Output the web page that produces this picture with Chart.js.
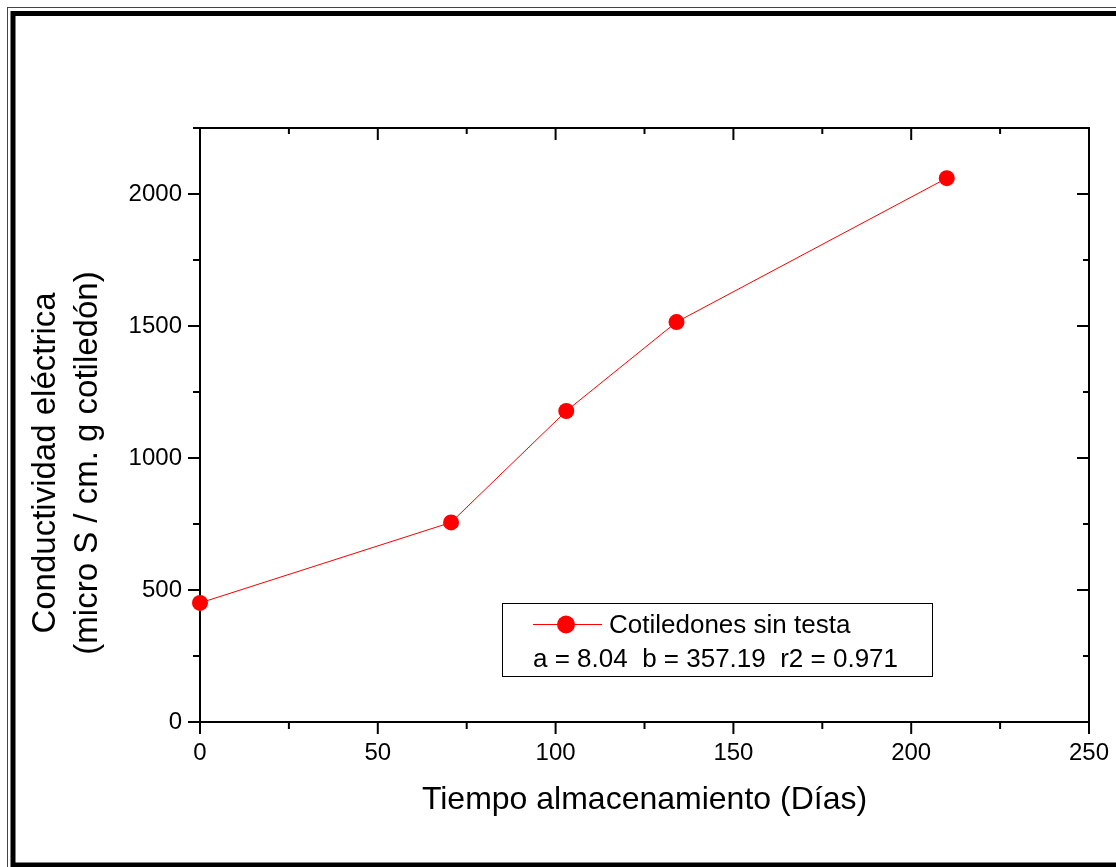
<!DOCTYPE html>
<html>
<head>
<meta charset="utf-8">
<script src="https://cdn.jsdelivr.net/npm/chart.js@4"></script>
<style>
  html, body { margin: 0; padding: 0; background: #fff; }
  canvas { display: block; }
</style>
</head>
<body>
<canvas id="chart" width="1116" height="867"></canvas>
<script>
// datos
const dias          = [0, 70.6, 103, 134, 210];
const conductividad = [451, 756, 1178, 1515, 2060];

const xTicks = [0, 50, 100, 150, 200, 250];
const xMinor = [25, 75, 125, 175, 225];
const yTicks = [0, 500, 1000, 1500, 2000];
const yMinor = [250, 750, 1250, 1750, 2250];

const serieLabel  = 'Cotiledones sin testa';
const ajusteLabel = 'a = 8.04  b = 357.19  r2 = 0.971';
const yTitulo     = ['Conductividad eléctrica', '(micro S / cm. g cotiledón)'];

const RED  = '#ff0000';
const FONT = "'Liberation Sans', Arial, sans-serif";

// marco doble alrededor de la figura
const framePlugin = {
  id: 'frame',
  beforeDraw(chart) {
    const ctx = chart.ctx;
    ctx.save();
    ctx.fillStyle = '#fff';
    ctx.fillRect(0, 0, chart.width, chart.height);
    ctx.strokeStyle = '#444';
    ctx.lineWidth = 1;
    ctx.strokeRect(7.5, 7.5, 1120, 870);
    ctx.strokeStyle = '#000';
    ctx.lineWidth = 5;
    ctx.strokeRect(13, 13.5, 1115, 851.5);
    ctx.restore();
  },
};

// caja de ejes con marcas (hacia fuera abajo/izq, hacia dentro arriba/der)
const axesBoxPlugin = {
  id: 'axesBox',
  beforeDatasetsDraw(chart) {
    const { ctx, chartArea: a, scales: { x, y } } = chart;
    ctx.save();
    ctx.strokeStyle = '#000';
    ctx.lineWidth = 2;
    ctx.strokeRect(a.left, a.top, a.right - a.left, a.bottom - a.top);

    const tick = (x1, y1, x2, y2) => {
      ctx.beginPath(); ctx.moveTo(x1, y1); ctx.lineTo(x2, y2); ctx.stroke();
    };
    xTicks.forEach(v => {
      const px = x.getPixelForValue(v);
      tick(px, a.bottom, px, a.bottom + 12);
      tick(px, a.top, px, a.top + 12);
    });
    xMinor.forEach(v => {
      const px = x.getPixelForValue(v);
      tick(px, a.bottom, px, a.bottom + 7);
      tick(px, a.top, px, a.top + 6);
    });
    yTicks.forEach(v => {
      const py = y.getPixelForValue(v);
      tick(a.left, py, a.left - 12, py);
      tick(a.right, py, a.right - 12, py);
    });
    yMinor.forEach(v => {
      const py = y.getPixelForValue(v);
      tick(a.left, py, a.left - 7, py);
      tick(a.right, py, a.right - 6, py);
    });

    // titulo del eje Y (dos lineas, algo por debajo del centro del eje)
    ctx.fillStyle = '#000';
    ctx.font = `33px ${FONT}`;
    ctx.textAlign = 'center';
    ctx.textBaseline = 'alphabetic';
    [55, 97].forEach((bx, i) => {
      ctx.save();
      ctx.translate(bx, 463);
      ctx.rotate(-Math.PI / 2);
      ctx.fillText(yTitulo[i], 0, 0);
      ctx.restore();
    });
    ctx.restore();
  },
};

// leyenda estilo Origin con la linea de ajuste
const legendBoxPlugin = {
  id: 'legendBox',
  afterDraw(chart) {
    const ctx = chart.ctx;
    ctx.save();
    ctx.strokeStyle = '#000';
    ctx.lineWidth = 1;
    ctx.strokeRect(502.5, 603.5, 430, 73);

    ctx.strokeStyle = RED;
    ctx.beginPath(); ctx.moveTo(533, 624.5); ctx.lineTo(602, 624.5); ctx.stroke();
    ctx.fillStyle = RED;
    ctx.beginPath(); ctx.arc(566, 624.5, 9, 0, Math.PI * 2); ctx.fill();

    ctx.fillStyle = '#000';
    ctx.font = `26px ${FONT}`;
    ctx.textBaseline = 'middle';
    ctx.textAlign = 'left';
    ctx.fillText(serieLabel, 609, 626);
    ctx.fillText(ajusteLabel, 533, 660);
    ctx.restore();
  },
};

new Chart(document.getElementById('chart'), {
  type: 'scatter',
  data: {
    datasets: [{
      label: serieLabel,
      data: dias.map((d, i) => ({ x: d, y: conductividad[i] })),
      showLine: true,
      borderColor: RED,
      borderWidth: 1,
      pointBackgroundColor: RED,
      pointBorderColor: RED,
      pointRadius: 8,
      pointBorderWidth: 0,
      clip: false,
    }],
  },
  options: {
    responsive: false,
    animation: false,
    layout: { padding: { top: 128, right: 27, left: 0, bottom: 0 } },
    plugins: {
      legend: { display: false },
      tooltip: { enabled: false },
    },
    scales: {
      x: {
        type: 'linear',
        min: 0,
        max: 250,
        afterBuildTicks: s => { s.ticks = xTicks.map(v => ({ value: v })); },
        afterFit: s => { s.height = 145; s.paddingLeft = 0; s.paddingRight = 0; },
        grid: { display: false, drawTicks: false },
        border: { display: false },
        ticks: {
          color: '#000', padding: 17, maxRotation: 0,
          font: { size: 24, family: FONT },
          callback: v => String(v),
        },
        title: {
          display: true,
          text: 'Tiempo almacenamiento (Días)',
          color: '#000',
          font: { size: 32, family: FONT },
          padding: { top: 0, bottom: 48 },
        },
      },
      y: {
        type: 'linear',
        min: 0,
        max: 2250,
        afterBuildTicks: s => { s.ticks = yTicks.map(v => ({ value: v })); },
        afterFit: s => { s.width = 200; s.paddingTop = 0; s.paddingBottom = 0; },
        grid: { display: false, drawTicks: false },
        border: { display: false },
        ticks: {
          color: '#000', padding: 18,
          font: { size: 24, family: FONT },
          callback: v => String(v),
        },
      },
    },
  },
  plugins: [framePlugin, axesBoxPlugin, legendBoxPlugin],
});
</script>
</body>
</html>
